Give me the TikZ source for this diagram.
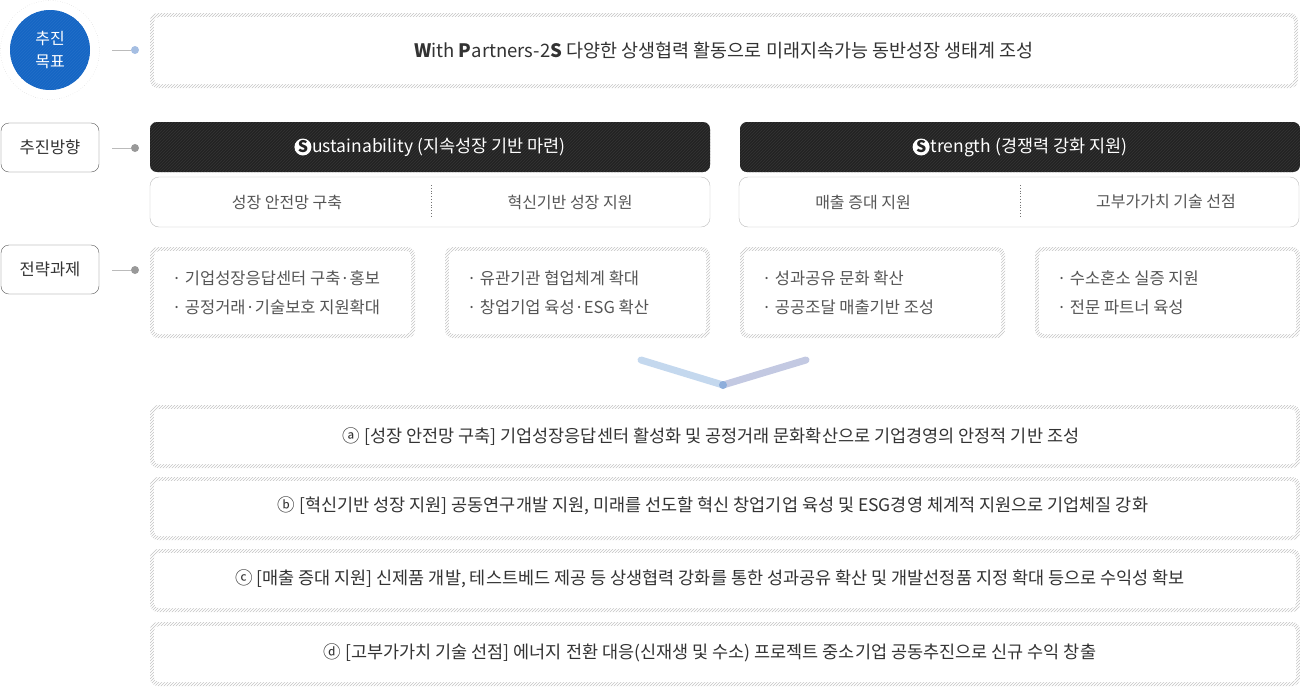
\documentclass[tikz,border=0pt]{standalone}
\usepackage{fontspec}
\setmainfont{Noto Sans CJK KR}
\usetikzlibrary{positioning,patterns}
\definecolor{goalblue}{HTML}{1566C4}
\definecolor{darkbox}{HTML}{232323}
\definecolor{textgray}{HTML}{333333}
\definecolor{subgray}{HTML}{555555}
\definecolor{hatchgray}{HTML}{C4C4C4}
\definecolor{linegray}{HTML}{BBBBBB}
\definecolor{vleft}{HTML}{C4D8EE}
\definecolor{vright}{HTML}{C3C9E2}
\definecolor{vtipdot}{HTML}{8EAEDB}
\tikzset{
  hatch/.style={pattern=north east lines, pattern color=hatchgray, rounded corners=8pt,
    inner sep=0pt, text=textgray,
    path picture={\fill[white, rounded corners=5pt]
      ([shift={(4pt,4pt)}]path picture bounding box.south west) rectangle
      ([shift={(-4pt,-4pt)}]path picture bounding box.north east);}},
  darktitle/.style={preaction={fill=darkbox}, pattern=north east lines,
    pattern color=white!8!darkbox, rounded corners=7pt,
    minimum width=560pt, minimum height=50pt},
  subbox/.style={draw=linegray, fill=white, rounded corners=9pt,
    minimum width=560pt, minimum height=50pt},
  sidelabel/.style={draw=black!65, rounded corners=8pt, minimum width=98pt,
    minimum height=49pt, text=textgray, font=\fontsize{16.5}{18}\selectfont},
  hook/.style={draw=linegray, line width=1pt},
  hookdot/.style={circle, fill=#1, inner sep=0pt, minimum size=8pt},
  titletext/.style={text=white, inner sep=0pt, font=\fontsize{17.5}{20}\selectfont},
  sbadge/.style={circle, fill=white, text=darkbox, inner sep=0pt, minimum size=17pt,
    font=\fontsize{16}{16}\selectfont\bfseries},
  subtext/.style={text=subgray, font=\fontsize{16}{18}\selectfont},
  tasktext/.style={text=subgray, align=left, anchor=west, inner sep=0pt,
    font=\fontsize{16.5}{29}\selectfont},
  goaltext/.style={text=textgray, font=\fontsize{17.5}{20}\selectfont}
}
\begin{document}
\begin{tikzpicture}[x=1pt, y=-1pt]
  \useasboundingbox (0,0) rectangle (1300,694);

  \node[circle, draw=black!20, dotted, minimum size=99pt] (ring) at (50,50) {};
  \node[circle, preaction={fill=goalblue}, pattern=north east lines,
        pattern color=white!6!goalblue, minimum size=80pt, align=center,
        text=white, font=\fontsize{16}{23}\selectfont] (goal) at (50,50) {추진\\목표};
  \node[sidelabel] (dir) at (50,147.5) {추진방향};
  \node[sidelabel] (task) at (50,269.5) {전략과제};

  \node[hookdot=vtipdot!80] (goaldot) at (135,50) {};
  \node[hookdot=black!40] (dirdot) at (135,148) {};
  \node[hookdot=black!40] (taskdot) at (135,270) {};
  \coordinate (goalhook) at (112,50);
  \coordinate (dirhook) at (112,148);
  \coordinate (taskhook) at (112,270);
  \draw[hook] (goalhook) -- (goaldot);
  \draw[hook] (dirhook) -- (dirdot);
  \draw[hook] (taskhook) -- (taskdot);

  \node[hatch, minimum width=1148pt, minimum height=75pt,
        font=\fontsize{18.5}{20}\selectfont] (vision) at (724,50.5)
        {{\bfseries W}ith {\bfseries P}artners-2{\bfseries S} 다양한 상생협력 활동으로 미래지속가능 동반성장 생태계 조성};

  \node[darktitle] (sus) at (430,147) {};
  \node[titletext] (sustxt) at (439,147) {ustainability (지속성장 기반 마련)};
  \node[sbadge, left=0.5pt of sustxt] (susS) {S};
  \node[darktitle] (str) at (1020,147) {};
  \node[titletext] (strtxt) at (1029,147) {trength (경쟁력 강화 지원)};
  \node[sbadge, left=0.5pt of strtxt] (strS) {S};

  \node[subbox] (susbox) at (430,202) {};
  \node[subbox] (strbox) at (1019,202) {};
  \draw[black!55, dotted, line width=0.8pt] (431,185) -- (431,218);
  \draw[black!55, dotted, line width=0.8pt] (1020,185) -- (1020,218);
  \node[subtext] (safety) at (287,202) {성장 안전망 구축};
  \node[subtext] (innov) at (570,202) {혁신기반 성장 지원};
  \node[subtext] (sales) at (863,202) {매출 증대 지원};
  \node[subtext] (tech) at (1166,202) {고부가가치 기술 선점};

  \foreach \i/\x in {1/282.5, 2/577.5, 3/872.5, 4/1167.5}
    \node[hatch, minimum width=265pt, minimum height=91pt] (task\i) at (\x,292.5) {};
  \node[tasktext] (task1txt) at ([xshift=22pt]task1.west) {· 기업성장응답센터 구축·홍보\\· 공정거래·기술보호 지원확대};
  \node[tasktext] (task2txt) at ([xshift=22pt]task2.west) {· 유관기관 협업체계 확대\\· 창업기업 육성·ESG 확산};
  \node[tasktext] (task3txt) at ([xshift=22pt]task3.west) {· 성과공유 문화 확산\\· 공공조달 매출기반 조성};
  \node[tasktext] (task4txt) at ([xshift=22pt]task4.west) {· 수소혼소 실증 지원\\· 전문 파트너 육성};

  \coordinate (vl) at (641,360);
  \coordinate (vtip) at (723,385);
  \coordinate (vr) at (806,360);
  \draw[vleft, line width=7pt, line cap=round] (vl) -- (vtip);
  \draw[vright, line width=7pt, line cap=round] (vtip) -- (vr);
  \node[circle, fill=vtipdot, inner sep=0pt, minimum size=8pt] (vdot) at (vtip) {};

  \node[hatch, minimum width=1150pt, minimum height=63pt] (outa) at (725,436.5) {};
  \node[hatch, minimum width=1150pt, minimum height=63pt] (outb) at (725,508.5) {};
  \node[hatch, minimum width=1150pt, minimum height=63pt] (outc) at (725,580.5) {};
  \node[hatch, minimum width=1150pt, minimum height=64pt] (outd) at (725,654) {};
  \node[goaltext] at (711,437) {ⓐ [성장 안전망 구축] 기업성장응답센터 활성화 및 공정거래 문화확산으로 기업경영의 안정적 기반 조성};
  \node[goaltext] at (713,506) {ⓑ [혁신기반 성장 지원] 공동연구개발 지원, 미래를 선도할 혁신 창업기업 육성 및 ESG경영 체계적 지원으로 기업체질 강화};
  \node[goaltext] at (710,579) {ⓒ [매출 증대 지원] 신제품 개발, 테스트베드 제공 등 상생협력 강화를 통한 성과공유 확산 및 개발선정품 지정 확대 등으로 수익성 확보};
  \node[goaltext] at (710,653) {ⓓ [고부가가치 기술 선점] 에너지 전환 대응(신재생 및 수소) 프로젝트 중소기업 공동추진으로 신규 수익 창출};
\end{tikzpicture}
\end{document}
